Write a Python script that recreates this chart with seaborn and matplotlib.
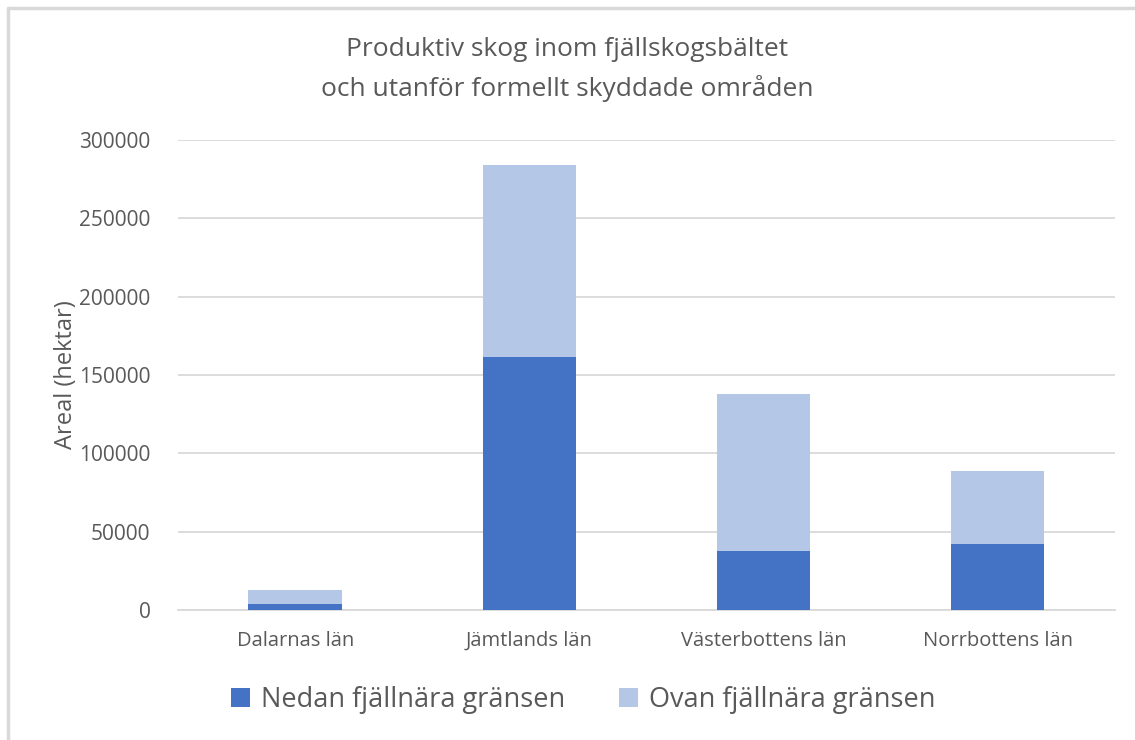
import matplotlib
matplotlib.use("Agg")
import matplotlib.pyplot as plt
import seaborn as sns
import pandas as pd
from matplotlib.lines import Line2D
from matplotlib.patches import Patch

categories = ["Dalarnas län", "Jämtlands län", "Västerbottens län", "Norrbottens län"]
nedan = [3700, 161500, 37900, 41900]
ovan = [8800, 122700, 99800, 46600]
series_names = ["Nedan fjällnära gränsen", "Ovan fjällnära gränsen"]
yticks = [0, 50000, 100000, 150000, 200000, 250000, 300000]

sns.set_theme(style="white")
plt.rcParams['font.family'] = ['Open Sans', 'DejaVu Sans']

dark = "#4472C4"
light = "#B4C7E7"
textc = "#595959"

df = pd.DataFrame({"cat": categories, "nedan": nedan,
                   "total": [a + b for a, b in zip(nedan, ovan)]})

fig = plt.figure(figsize=(11.35, 7.4), dpi=100)
ax = fig.add_axes([0.157, 0.1757, 0.825, 0.635])

sns.barplot(data=df, x="cat", y="total", color=light, width=0.4, ax=ax,
            saturation=1, zorder=2, linewidth=0)
sns.barplot(data=df, x="cat", y="nedan", color=dark, width=0.4, ax=ax,
            saturation=1, zorder=3, linewidth=0)

ax.set_ylim(0, 300000)
ax.set_yticks(yticks)
ax.set_yticklabels([str(v) for v in yticks], fontsize=15, color=textc)
ax.tick_params(axis='x', labelsize=14.5, colors=textc, length=0, pad=15)
ax.tick_params(axis='y', length=0, pad=20)
ax.grid(axis='y', color="#D9D9D9", linewidth=1.3, zorder=0)
ax.set_axisbelow(True)
for s in ["top", "right", "left"]:
    ax.spines[s].set_visible(False)
ax.spines["bottom"].set_color("#D9D9D9")
ax.spines["bottom"].set_linewidth(1.3)
ax.set_xlabel("")
ax.set_ylabel("Areal (hektar)", fontsize=17, color=textc, labelpad=1)
ax.set_xlim(-0.5, 3.5)

fig.text(0.5, 0.906, "Produktiv skog inom fjällskogsbältet\noch utanför formellt skyddade områden",
         ha="center", va="center", fontsize=19, color=textc, linespacing=1.6)

handles = [Patch(facecolor=dark, edgecolor="none"), Patch(facecolor=light, edgecolor="none")]
leg = fig.legend(handles, series_names, loc="center", bbox_to_anchor=(0.514, 0.054),
                 ncol=2, frameon=False, fontsize=19.5, handlelength=0.7, handleheight=0.7,
                 handletextpad=0.4, columnspacing=2.0, labelcolor=textc)

fig.add_artist(Line2D([0.007, 1.0], [0.989, 0.989], color="#D9D9D9", linewidth=2.5))
fig.add_artist(Line2D([0.007, 0.007], [0.0, 0.989], color="#D9D9D9", linewidth=2.5))

fig.savefig("out.png", dpi=100, facecolor="white")
